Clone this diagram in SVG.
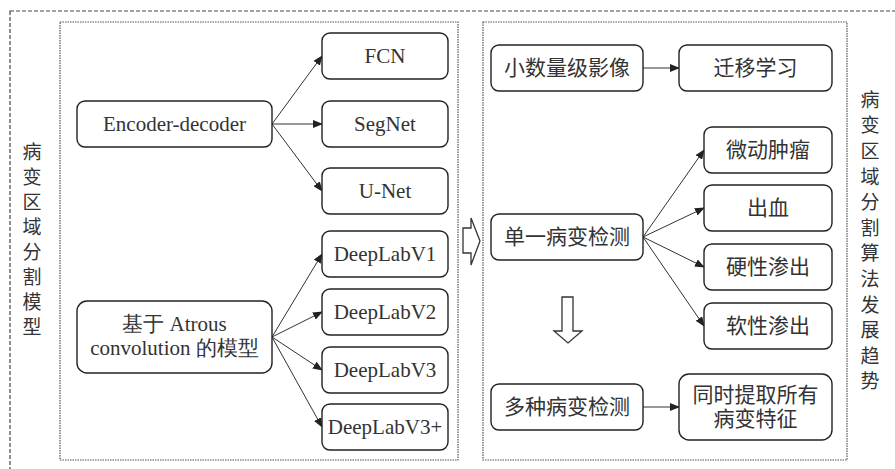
<svg xmlns="http://www.w3.org/2000/svg" width="895" height="469" viewBox="0 0 895 469">
<style>
.bx{fill:#fff;stroke:#222;stroke-width:1.4}
.en{font-family:"Liberation Serif","Times New Roman",serif;font-size:21px;fill:#333;text-anchor:middle}
.zh{font-family:"Liberation Serif","Noto Sans CJK SC",serif;font-size:21px;fill:#333;text-anchor:middle}
.vt{font-family:"Noto Sans CJK SC",sans-serif;font-size:19px;fill:#333;writing-mode:vertical-rl;text-orientation:upright}
.cn line{stroke:#333;stroke-width:1;marker-end:url(#ah)}
.blk{fill:#fff;stroke:#333;stroke-width:1.3}
</style>
<defs>
<marker id="ah" markerWidth="10" markerHeight="8" refX="9" refY="4" orient="auto" markerUnits="userSpaceOnUse">
<path d="M0,0 L10,4 L0,8 z" fill="#222"/>
</marker>
</defs>
<rect width="895" height="469" fill="#fff"/>
<g id="frames">
<rect x="10" y="11" width="900" height="470" fill="none" stroke="#444" stroke-width="1.2" stroke-dasharray="4,2"/>
<rect x="60" y="22" width="398" height="438" fill="none" stroke="#555" stroke-width="1.2" stroke-dasharray="1.5,1"/>
<rect x="483" y="22" width="364" height="438" fill="none" stroke="#555" stroke-width="1.2" stroke-dasharray="1.5,1"/>
</g>
<g id="label-left">
<text class="vt" x="32" y="142" letter-spacing="6">病变区域分割模型</text>
</g>
<g id="label-right">
<text class="vt" x="870" y="90" letter-spacing="6.6">病变区域分割算法发展趋势</text>
</g>
<g class="cn" id="connectors">
<line x1="272" y1="124" x2="322" y2="56"/>
<line x1="272" y1="124" x2="322" y2="124"/>
<line x1="272" y1="124" x2="322" y2="191"/>
<line x1="272" y1="337" x2="322" y2="254"/>
<line x1="272" y1="337" x2="322" y2="312"/>
<line x1="272" y1="337" x2="322" y2="370"/>
<line x1="272" y1="337" x2="322" y2="427"/>
<line x1="643" y1="68" x2="679" y2="68"/>
<line x1="643" y1="237" x2="704" y2="150"/>
<line x1="643" y1="237" x2="704" y2="208"/>
<line x1="643" y1="237" x2="704" y2="267"/>
<line x1="643" y1="237" x2="704" y2="326"/>
<line x1="643" y1="407" x2="679" y2="407"/>
</g>
<g id="block-arrows">
<path class="blk" d="M463,228 L471,228 L471,218 L480,241 L471,265 L471,253 L463,253 Z"/>
<path class="blk" d="M562,297 L573,297 L573,331 L582,331 L568,343 L554,331 L562,331 Z"/>
</g>
<g id="n-fcn"><rect class="bx" x="322" y="33" width="126" height="46" rx="8"/><text class="en" x="385" y="63">FCN</text></g>
<g id="n-segnet"><rect class="bx" x="322" y="101" width="126" height="46" rx="8"/><text class="en" x="385" y="131">SegNet</text></g>
<g id="n-unet"><rect class="bx" x="322" y="168" width="126" height="46" rx="8"/><text class="en" x="385" y="198">U-Net</text></g>
<g id="n-encdec"><rect class="bx" x="77" y="101" width="195" height="46" rx="8"/><text class="en" x="174.5" y="131">Encoder-decoder</text></g>
<g id="n-v1"><rect class="bx" x="322" y="231" width="126" height="46" rx="8"/><text class="en" x="385" y="261">DeepLabV1</text></g>
<g id="n-v2"><rect class="bx" x="322" y="289" width="126" height="46" rx="8"/><text class="en" x="385" y="319">DeepLabV2</text></g>
<g id="n-v3"><rect class="bx" x="322" y="347" width="126" height="46" rx="8"/><text class="en" x="385" y="377">DeepLabV3</text></g>
<g id="n-v3p"><rect class="bx" x="322" y="404" width="126" height="46" rx="8"/><text class="en" x="385" y="434">DeepLabV3+</text></g>
<g id="n-atrous"><rect class="bx" x="77" y="301" width="195" height="72" rx="10"/><text class="en" x="174.5" y="331">基于 Atrous</text><text class="en" x="174.5" y="355">convolution 的模型</text></g>
<g id="n-small"><rect class="bx" x="491" y="45" width="152" height="46" rx="8"/><text class="zh" x="567" y="75">小数量级影像</text></g>
<g id="n-transfer"><rect class="bx" x="679" y="45" width="153" height="46" rx="8"/><text class="zh" x="755.5" y="75">迁移学习</text></g>
<g id="n-micro"><rect class="bx" x="704" y="127" width="128" height="46" rx="8"/><text class="zh" x="768" y="157">微动肿瘤</text></g>
<g id="n-bleed"><rect class="bx" x="704" y="185" width="128" height="46" rx="8"/><text class="zh" x="768" y="215">出血</text></g>
<g id="n-single"><rect class="bx" x="491" y="214" width="152" height="46" rx="8"/><text class="zh" x="567" y="244">单一病变检测</text></g>
<g id="n-hard"><rect class="bx" x="704" y="244" width="128" height="46" rx="8"/><text class="zh" x="768" y="274">硬性渗出</text></g>
<g id="n-soft"><rect class="bx" x="704" y="303" width="128" height="46" rx="8"/><text class="zh" x="768" y="333">软性渗出</text></g>
<g id="n-multi"><rect class="bx" x="491" y="384" width="152" height="46" rx="8"/><text class="zh" x="567" y="414">多种病变检测</text></g>
<g id="n-all"><rect class="bx" x="679" y="374" width="153" height="66" rx="10"/><text class="zh" x="755.5" y="402">同时提取所有</text><text class="zh" x="755.5" y="426">病变特征</text></g>
</svg>
